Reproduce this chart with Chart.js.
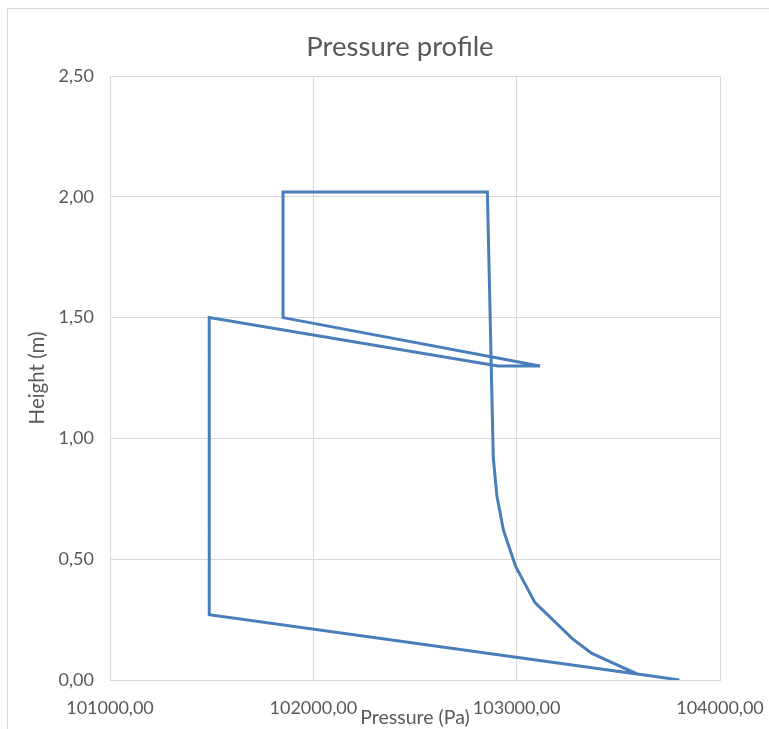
<!DOCTYPE html>
<html>
<head>
<meta charset="utf-8">
<script src="https://cdn.jsdelivr.net/npm/chart.js@4.4.1/dist/chart.umd.min.js"></script>
<style>
  html, body { margin: 0; padding: 0; background: #fff; overflow: hidden; }
  #wrap { position: relative; width: 769px; height: 729px; }
</style>
</head>
<body>
<div id="wrap"><canvas id="chart" width="769" height="729"></canvas></div>
<script>
// values, in drawing order
const pressures = [103800, 103665, 103592, 103370, 103275, 103090, 102995, 102935, 102903, 102885, 102856, 101851, 101851, 103115, 102908, 101488, 101488, 103592];
const heights = [0, 0.017, 0.025, 0.11, 0.17, 0.32, 0.47, 0.62, 0.76, 0.92, 2.02, 2.02, 1.50, 1.30, 1.30, 1.50, 0.27, 0.025];

const xTicks = [101000, 102000, 103000, 104000];
const yTicks = [0, 0.5, 1, 1.5, 2, 2.5];

const points = pressures.map((p, i) => ({ x: p, y: heights[i] }));

const textColor = '#595959';
const gridColor = '#d9d9d9';
const fontFamily = 'Lato, "Open Sans", sans-serif';

const fmt = v => Number(v).toFixed(2).replace('.', ',');

// light frame around the whole chart, like the spreadsheet chart box
const frame = {
  id: 'frame',
  beforeDraw(chart) {
    const ctx = chart.ctx;
    ctx.save();
    ctx.strokeStyle = gridColor;
    ctx.lineWidth = 1;
    ctx.strokeRect(7.5, 8.5, 900, 900);
    ctx.restore();
  }
};

// the chart title sits centred on the frame, not on the canvas
const titleBox = {
  id: 'titleBox',
  afterLayout(chart) {
    const t = chart.titleBlock;
    if (t) { t.left = 31; t.right = 769; }
  }
};

new Chart(document.getElementById('chart').getContext('2d'), {
  type: 'scatter',
  data: {
    datasets: [{
      label: 'Pressure',
      data: points,
      showLine: true,
      borderColor: '#4A7EBB',
      borderWidth: 3,
      pointRadius: 0,
      pointHoverRadius: 0,
      tension: 0,
      fill: false
    }]
  },
  options: {
    responsive: false,
    animation: false,
    layout: { padding: { left: 0, right: 49, top: 0, bottom: 0 } },
    plugins: {
      legend: { display: false },
      tooltip: { enabled: false },
      title: {
        display: true,
        text: 'Pressure profile',
        color: textColor,
        font: { family: fontFamily, size: 27.5, weight: 'normal' },
        padding: { top: 30.5, bottom: 12.5 }
      }
    },
    scales: {
      x: {
        type: 'linear',
        min: xTicks[0],
        max: xTicks[xTicks.length - 1],
        afterBuildTicks: axis => { axis.ticks = xTicks.map(v => ({ value: v })); },
        afterFit: axis => { axis.height = 49; },
        grid: { color: gridColor, drawTicks: true, tickLength: 14, tickColor: 'rgba(0,0,0,0)' },
        border: { color: gridColor },
        ticks: {
          color: textColor,
          font: { family: fontFamily, size: 18 },
          padding: 3,
          maxRotation: 0,
          callback: v => fmt(v)
        },
        title: {
          display: true,
          text: 'Pressure (Pa)',
          color: textColor,
          font: { family: fontFamily, size: 19.5 },
          padding: { top: -30, bottom: 0 }
        }
      },
      y: {
        type: 'linear',
        min: yTicks[0],
        max: yTicks[yTicks.length - 1],
        afterBuildTicks: axis => { axis.ticks = yTicks.map(v => ({ value: v })); },
        afterFit: axis => { axis.width = 110; },
        grid: { color: gridColor, drawTicks: false },
        border: { display: false },
        ticks: {
          color: textColor,
          font: { family: fontFamily, size: 18 },
          padding: 16,
          callback: v => fmt(v)
        },
        title: {
          display: true,
          text: 'Height (m)',
          color: textColor,
          font: { family: fontFamily, size: 20.5 },
          padding: { top: 25, bottom: 0 }
        }
      }
    }
  },
  plugins: [frame, titleBox]
});
</script>
</body>
</html>
